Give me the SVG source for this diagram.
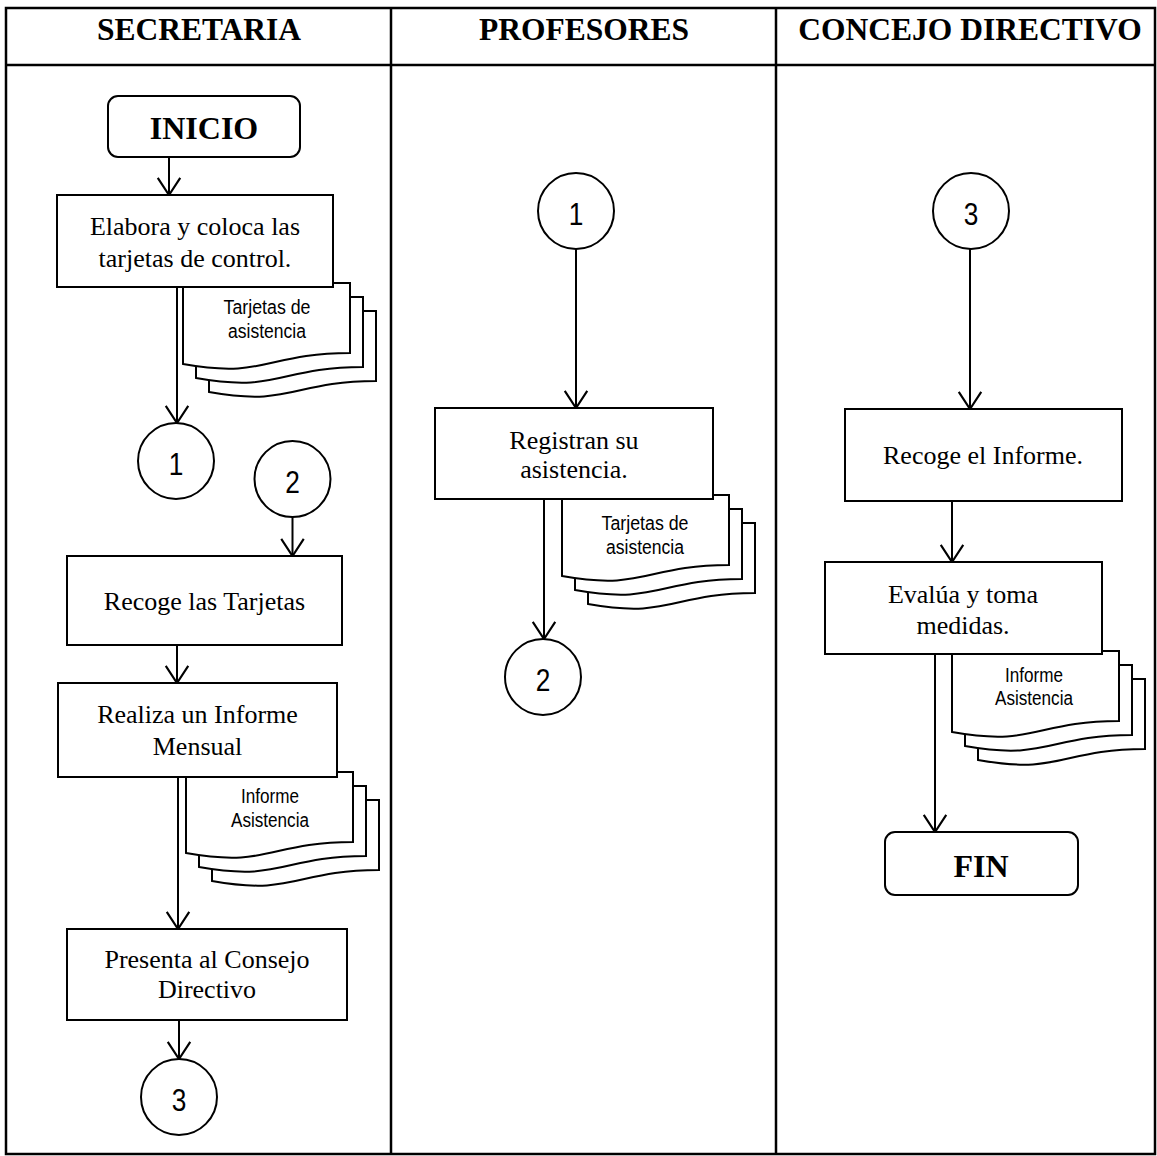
<svg xmlns="http://www.w3.org/2000/svg" width="1157" height="1156" viewBox="0 0 1157 1156">
  <style>
    .grid { fill: none; stroke: #000; stroke-width: 2.5; }
    .box { fill: #fff; stroke: #000; stroke-width: 2; }
    .doc { fill: #fff; stroke: #000; stroke-width: 2; stroke-linejoin: miter; }
    .wire { fill: none; stroke: #000; stroke-width: 2; marker-end: url(#vhead); }
    .head { font-family: "Liberation Serif", "Times New Roman", serif; font-weight: bold; font-size: 31.5px; text-anchor: middle; fill: #000; }
    .term { font-family: "Liberation Serif", "Times New Roman", serif; font-weight: bold; font-size: 32px; text-anchor: middle; fill: #000; }
    .step { font-family: "Liberation Serif", "Times New Roman", serif; font-size: 26px; text-anchor: middle; fill: #000; }
    .note { font-family: "Liberation Sans", Arial, sans-serif; font-size: 20px; text-anchor: middle; fill: #000; }
    .num { font-family: "Liberation Sans", Arial, sans-serif; font-size: 32px; text-anchor: middle; fill: #000; }
  </style>
  <defs>
    <marker id="vhead" markerUnits="userSpaceOnUse" markerWidth="30" markerHeight="30" viewBox="-20 -14 24 28" refX="0" refY="0" orient="auto">
      <path d="M-16,-10.5 L0,0 L-16,10.5" fill="none" stroke="#000" stroke-width="2"/>
    </marker>
    <!-- multi-document symbol: three stacked sheets with wavy bottom edge -->
    <path id="sheet" d="M0,0 H167 V70 C83.5,70 83.5,96 0,81 Z"/>
    <g id="stack">
      <use href="#sheet" class="doc" x="26" y="28"/>
      <use href="#sheet" class="doc" x="13" y="14"/>
      <use href="#sheet" class="doc" x="0" y="0"/>
    </g>
  </defs>

  <rect width="1157" height="1156" fill="#fff"/>

  <!-- swimlane table -->
  <g id="lanes">
    <rect class="grid" x="6" y="8" width="1149" height="1146"/>
    <line class="grid" x1="6" y1="65" x2="1155" y2="65"/>
    <line class="grid" x1="391" y1="8" x2="391" y2="1154"/>
    <line class="grid" x1="776" y1="8" x2="776" y2="1154"/>
    <text class="head" x="199" y="40">SECRETARIA</text>
    <text class="head" x="584" y="40">PROFESORES</text>
    <text class="head" x="970" y="40">CONCEJO DIRECTIVO</text>
  </g>

  <!-- connectors -->
  <g id="connectors">
    <line class="wire" x1="169" y1="157" x2="169" y2="195"/>
    <line class="wire" x1="177" y1="287" x2="177" y2="423"/>
    <line class="wire" x1="292.5" y1="517" x2="292.5" y2="556"/>
    <line class="wire" x1="177" y1="645" x2="177" y2="683"/>
    <line class="wire" x1="178" y1="777" x2="178" y2="929"/>
    <line class="wire" x1="179" y1="1020" x2="179" y2="1059"/>
    <line class="wire" x1="576" y1="249" x2="576" y2="408"/>
    <line class="wire" x1="544" y1="499" x2="544" y2="639"/>
    <line class="wire" x1="970" y1="249" x2="970" y2="409"/>
    <line class="wire" x1="952" y1="501" x2="952" y2="562"/>
    <line class="wire" x1="935" y1="654" x2="935" y2="832"/>
  </g>

  <!-- SECRETARIA lane -->
  <g id="inicio">
    <rect class="box" x="108" y="96" width="192" height="61" rx="10"/>
    <text class="term" x="204" y="139">INICIO</text>
  </g>
  <g id="docs-tarjetas-1">
    <use href="#stack" x="183" y="283"/>
    <text class="note" x="267" y="314" textLength="87" lengthAdjust="spacingAndGlyphs">Tarjetas de</text>
    <text class="note" x="267" y="338" textLength="78" lengthAdjust="spacingAndGlyphs">asistencia</text>
  </g>
  <g id="elabora">
    <rect class="box" x="57" y="195" width="276" height="92"/>
    <text class="step" x="195" y="235">Elabora y coloca las</text>
    <text class="step" x="195" y="267">tarjetas de control.</text>
  </g>
  <g id="conector-1a">
    <circle class="box" cx="176" cy="461" r="38"/>
    <text class="num" transform="translate(176 475) scale(0.82 1)">1</text>
  </g>
  <g id="conector-2b">
    <circle class="box" cx="292.5" cy="479" r="38"/>
    <text class="num" transform="translate(292.5 493) scale(0.82 1)">2</text>
  </g>
  <g id="recoge-tarjetas">
    <rect class="box" x="67" y="556" width="275" height="89"/>
    <text class="step" x="204.5" y="610">Recoge las Tarjetas</text>
  </g>
  <g id="docs-informe-1">
    <use href="#stack" x="186" y="772"/>
    <text class="note" x="270" y="803" textLength="58" lengthAdjust="spacingAndGlyphs">Informe</text>
    <text class="note" x="270" y="827" textLength="78" lengthAdjust="spacingAndGlyphs">Asistencia</text>
  </g>
  <g id="realiza-informe">
    <rect class="box" x="58" y="683" width="279" height="94"/>
    <text class="step" x="197.5" y="723">Realiza un Informe</text>
    <text class="step" x="197.5" y="755">Mensual</text>
  </g>
  <g id="presenta">
    <rect class="box" x="67" y="929" width="280" height="91"/>
    <text class="step" x="207" y="968">Presenta al Consejo</text>
    <text class="step" x="207" y="998">Directivo</text>
  </g>
  <g id="conector-3a">
    <circle class="box" cx="179" cy="1097" r="38"/>
    <text class="num" transform="translate(179 1111) scale(0.82 1)">3</text>
  </g>

  <!-- PROFESORES lane -->
  <g id="conector-1b">
    <circle class="box" cx="576" cy="211" r="38"/>
    <text class="num" transform="translate(576 225) scale(0.82 1)">1</text>
  </g>
  <g id="docs-tarjetas-2">
    <use href="#stack" x="562" y="495"/>
    <text class="note" x="645" y="530" textLength="87" lengthAdjust="spacingAndGlyphs">Tarjetas de</text>
    <text class="note" x="645" y="554" textLength="78" lengthAdjust="spacingAndGlyphs">asistencia</text>
  </g>
  <g id="registran">
    <rect class="box" x="435" y="408" width="278" height="91"/>
    <text class="step" x="574" y="449">Registran su</text>
    <text class="step" x="574" y="478">asistencia.</text>
  </g>
  <g id="conector-2a">
    <circle class="box" cx="543" cy="677" r="38"/>
    <text class="num" transform="translate(543 691) scale(0.82 1)">2</text>
  </g>

  <!-- CONCEJO DIRECTIVO lane -->
  <g id="conector-3b">
    <circle class="box" cx="971" cy="211" r="38"/>
    <text class="num" transform="translate(971 225) scale(0.82 1)">3</text>
  </g>
  <g id="recoge-informe">
    <rect class="box" x="845" y="409" width="277" height="92"/>
    <text class="step" x="983" y="464">Recoge el Informe.</text>
  </g>
  <g id="docs-informe-2">
    <use href="#stack" x="952" y="651"/>
    <text class="note" x="1034" y="682" textLength="58" lengthAdjust="spacingAndGlyphs">Informe</text>
    <text class="note" x="1034" y="705" textLength="78" lengthAdjust="spacingAndGlyphs">Asistencia</text>
  </g>
  <g id="evalua">
    <rect class="box" x="825" y="562" width="277" height="92"/>
    <text class="step" x="963" y="603">Evalúa y toma</text>
    <text class="step" x="963" y="634">medidas.</text>
  </g>
  <g id="fin">
    <rect class="box" x="885" y="832" width="193" height="63" rx="10"/>
    <text class="term" x="981" y="877">FIN</text>
  </g>
</svg>
